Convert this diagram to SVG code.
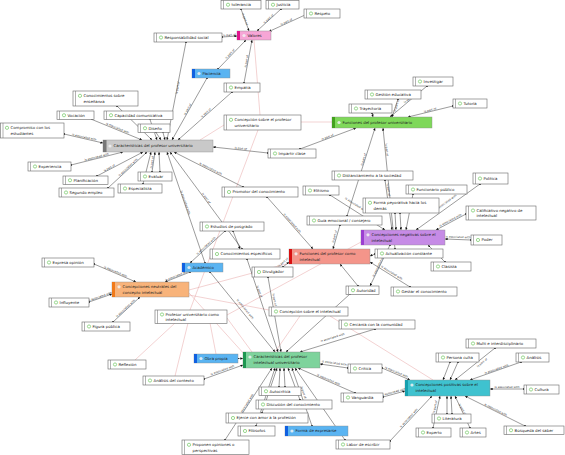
<svg xmlns="http://www.w3.org/2000/svg" width="565" height="455" viewBox="0 0 565 455">
<defs>
<marker id="ar" viewBox="0 0 6 6" refX="6" refY="3" markerWidth="2.6" markerHeight="2.6" markerUnits="userSpaceOnUse" orient="auto"><path d="M0,0L6,3L0,6z" fill="#111"/></marker>
<marker id="sq" viewBox="0 0 4 4" refX="2" refY="2" markerWidth="1.7" markerHeight="1.7" markerUnits="userSpaceOnUse"><rect width="4" height="4" fill="#111"/></marker>
<style>
.e line{stroke:#222;stroke-width:.45;marker-start:url(#sq);marker-end:url(#ar)}
.pk line{stroke:#e6a4a4;stroke-width:.5}
.lb text{font-family:"DejaVu Sans",sans-serif;font-size:2.8px;fill:#333;text-anchor:middle}
.nd rect.bx{fill:#fff;stroke:#666;stroke-width:.6}
.nd line{stroke:#666;stroke-width:.5}
.nd circle{fill:none;stroke:#5bbf4a;stroke-width:.6}
.nd text{font-family:"DejaVu Sans",sans-serif;font-size:3.9px;fill:#222}
.nd.cat circle{fill:#f2f2f2;stroke:none;opacity:.85}
.nd.cat rect.bx{stroke:#8a8a8a;stroke-width:.4}
.nd.gray rect.bx{fill:#c9c9c9}.nd.gray rect.br{fill:#777}
.nd.pink rect.bx{fill:#f6a6d6}.nd.pink rect.br{fill:#e0158e}
.nd.blue rect.bx{fill:#5ab4f2}.nd.blue rect.br{fill:#1060e0}
.nd.green rect.bx{fill:#7fd85a}.nd.green rect.br{fill:#43a01e}
.nd.salmon rect.bx{fill:#f4958a}.nd.salmon rect.br{fill:#d81010}
.nd.purple rect.bx{fill:#c68be6}.nd.purple rect.br{fill:#9b3fd0}
.nd.orange rect.bx{fill:#f8b37a}.nd.orange rect.br{fill:#f07a1a}
.nd.mint rect.bx{fill:#7ed39c}.nd.mint rect.br{fill:#1e9650}
.nd.teal rect.bx{fill:#3fc2cf}.nd.teal rect.br{fill:#17a0ae}
</style>
</defs>
<rect width="565" height="455" fill="#fff"/>
<g id="connectors">
<g class="pk">
<line x1="254" y1="40" x2="260" y2="115"/>
<line x1="224" y1="125" x2="200" y2="140"/>
<line x1="301" y1="122" x2="332" y2="122"/>
<line x1="258" y1="130" x2="190" y2="310"/>
<line x1="175" y1="323" x2="135" y2="360"/>
<line x1="188" y1="323" x2="175" y2="376"/>
<line x1="210" y1="323" x2="216" y2="354"/>
<line x1="227" y1="318" x2="252" y2="352"/>
<line x1="227" y1="315" x2="361" y2="242"/>
<line x1="290" y1="263" x2="189" y2="290"/>
<line x1="189" y1="295" x2="269" y2="310"/>
<line x1="330" y1="316" x2="433" y2="380"/>
<line x1="300" y1="316" x2="275" y2="352"/>
<line x1="189" y1="293" x2="245" y2="355"/>
</g>
<g class="e">
<line x1="241" y1="9" x2="249" y2="31"/>
<line x1="281" y1="9" x2="257" y2="31"/>
<line x1="305" y1="15" x2="269" y2="31.5"/>
<line x1="222" y1="37" x2="237" y2="36"/>
<line x1="218" y1="69" x2="246" y2="40"/>
<line x1="244" y1="83" x2="252" y2="40"/>
<line x1="186" y1="42" x2="167" y2="140"/>
<line x1="207" y1="78" x2="172" y2="140"/>
<line x1="232" y1="92" x2="178" y2="140"/>
<line x1="117" y1="106" x2="152" y2="140"/>
<line x1="92" y1="119.5" x2="142" y2="140"/>
<line x1="150" y1="119.5" x2="157" y2="140"/>
<line x1="156" y1="132.5" x2="161" y2="140"/>
<line x1="163" y1="132.5" x2="165" y2="140"/>
<line x1="64" y1="134" x2="103" y2="143"/>
<line x1="71" y1="165" x2="123" y2="152"/>
<line x1="97" y1="176" x2="143" y2="152"/>
<line x1="108" y1="188" x2="147" y2="152"/>
<line x1="152" y1="172" x2="155" y2="152"/>
<line x1="160" y1="172" x2="159" y2="152"/>
<line x1="143" y1="184" x2="151" y2="152"/>
<line x1="205" y1="263" x2="167" y2="152"/>
<line x1="242" y1="249" x2="170" y2="152"/>
<line x1="243" y1="187" x2="174" y2="152"/>
<line x1="268" y1="153" x2="213" y2="147"/>
<line x1="427" y1="86" x2="390" y2="117"/>
<line x1="398" y1="99" x2="392" y2="117"/>
<line x1="372" y1="113" x2="373" y2="117"/>
<line x1="453" y1="106" x2="408" y2="117"/>
<line x1="300" y1="149" x2="356" y2="128"/>
<line x1="347" y1="216" x2="375" y2="128"/>
<line x1="395" y1="249" x2="383" y2="128"/>
<line x1="385" y1="180" x2="392" y2="230"/>
<line x1="330" y1="195" x2="385" y2="230"/>
<line x1="400" y1="213" x2="401" y2="230"/>
<line x1="395" y1="213" x2="396" y2="230"/>
<line x1="413" y1="194" x2="406" y2="230"/>
<line x1="480" y1="184" x2="416" y2="230"/>
<line x1="466" y1="214" x2="436" y2="230"/>
<line x1="471" y1="240" x2="445" y2="239"/>
<line x1="445" y1="262" x2="428" y2="245"/>
<line x1="390" y1="245" x2="370" y2="286"/>
<line x1="340" y1="225" x2="333" y2="249"/>
<line x1="267" y1="197" x2="313" y2="249"/>
<line x1="283" y1="267" x2="289" y2="262"/>
<line x1="375" y1="254" x2="370" y2="256"/>
<line x1="358" y1="286" x2="340" y2="264"/>
<line x1="410" y1="287" x2="370" y2="262"/>
<line x1="210" y1="272" x2="275" y2="352"/>
<line x1="247" y1="259" x2="278" y2="352"/>
<line x1="268" y1="277" x2="281" y2="352"/>
<line x1="350" y1="294" x2="286" y2="352"/>
<line x1="375" y1="329" x2="300" y2="352"/>
<line x1="238" y1="358.5" x2="243" y2="358.5"/>
<line x1="204" y1="379" x2="243" y2="365"/>
<line x1="348" y1="368" x2="320" y2="364"/>
<line x1="355" y1="393" x2="298" y2="368"/>
<line x1="279" y1="387" x2="280" y2="368"/>
<line x1="285" y1="387" x2="284" y2="368"/>
<line x1="300" y1="400" x2="288" y2="368"/>
<line x1="262" y1="413" x2="277" y2="368"/>
<line x1="256" y1="426" x2="275" y2="368"/>
<line x1="312" y1="426" x2="292" y2="368"/>
<line x1="345" y1="440" x2="295" y2="368"/>
<line x1="225" y1="440" x2="272" y2="368"/>
<line x1="382" y1="368" x2="410" y2="380"/>
<line x1="383" y1="397" x2="405" y2="391"/>
<line x1="450" y1="362" x2="443" y2="380"/>
<line x1="458" y1="362" x2="450" y2="380"/>
<line x1="495" y1="348" x2="455" y2="380"/>
<line x1="521" y1="362" x2="470" y2="380"/>
<line x1="524" y1="389" x2="490" y2="389"/>
<line x1="447" y1="414" x2="447" y2="396"/>
<line x1="452" y1="414" x2="451" y2="396"/>
<line x1="433" y1="428" x2="440" y2="396"/>
<line x1="470" y1="428" x2="455" y2="396"/>
<line x1="525" y1="426" x2="465" y2="396"/>
<line x1="390" y1="441" x2="432" y2="396"/>
<line x1="94" y1="264" x2="136" y2="282"/>
<line x1="89" y1="302" x2="112" y2="294"/>
<line x1="113" y1="322" x2="140" y2="297"/>
<line x1="190" y1="272" x2="165" y2="282"/>
<line x1="225" y1="231" x2="190" y2="263"/>
<line x1="233" y1="231" x2="240" y2="249"/>
</g>
<g class="lb">
<text transform="translate(243.5,19.5) rotate(70)" y="-0.6">is part of</text>
<text transform="translate(269.5,20) rotate(-42.5)" y="-0.6">is part of</text>
<text transform="translate(287,23.3) rotate(-24.7)" y="-0.6">is part of</text>
<text transform="translate(229.5,36.5) rotate(-4)" y="-0.6">is part of</text>
<text transform="translate(231,55) rotate(-46)" y="-0.6">is part of</text>
<text transform="translate(248,61.5) rotate(-79.5)" y="-0.6">is part of</text>
<text transform="translate(179,88) rotate(-79)" y="-0.6">is part of</text>
<text transform="translate(189,110) rotate(-60.6)" y="-0.6">is part of</text>
<text transform="translate(207,114) rotate(-41.6)" y="-0.6">is part of</text>
<text transform="translate(117,129.5) rotate(22.8)" y="-0.6">is associated with</text>
<text transform="translate(84,138.5) rotate(12.7)" y="-0.6">is associated with</text>
<text transform="translate(97,158.5) rotate(-14)" y="-0.6">is associated with</text>
<text transform="translate(110,169.2) rotate(-27.5)" y="-0.6">is part of</text>
<text transform="translate(129,168.5) rotate(-42.7)" y="-0.6">is associated with</text>
<text transform="translate(153.5,162.5) rotate(-81.5)" y="-0.6">is part of</text>
<text transform="translate(184,203) rotate(71.1)" y="-0.6">is associated with</text>
<text transform="translate(205,199) rotate(53.4)" y="-0.6">is part of</text>
<text transform="translate(210,170) rotate(27)" y="-0.6">is associated with</text>
<text transform="translate(240.5,150) rotate(6.2)" y="-0.6">is part of</text>
<text transform="translate(410,100) rotate(-40)" y="-0.6">is part of</text>
<text transform="translate(398,106) rotate(-72)" y="-0.6">is part of</text>
<text transform="translate(430.5,111.5) rotate(-13.7)" y="-0.6">is part of</text>
<text transform="translate(328,138.5) rotate(-20.6)" y="-0.6">is part of</text>
<text transform="translate(365,160) rotate(-72.3)" y="-0.6">is part of</text>
<text transform="translate(385.2,150) rotate(84.3)" y="-0.6">is part of</text>
<text transform="translate(387,190) rotate(82)" y="-0.6">is part of</text>
<text transform="translate(355,206) rotate(32.5)" y="-0.6">is associated with</text>
<text transform="translate(447,203.5) rotate(-35.7)" y="-0.6">is associated with</text>
<text transform="translate(451,221.5) rotate(-28)" y="-0.6">is associated with</text>
<text transform="translate(458,238.5) rotate(2)" y="-0.6">is associated with</text>
<text transform="translate(380,266) rotate(-64)" y="-0.6">is associated with</text>
<text transform="translate(336,237) rotate(-74)" y="-0.6">is part of</text>
<text transform="translate(291,224) rotate(48.5)" y="-0.6">is associated with</text>
<text transform="translate(284,263.5) rotate(-40)" y="-0.6">is part of</text>
<text transform="translate(391,274) rotate(32)" y="-0.6">is associated with</text>
<text transform="translate(244,310) rotate(51)" y="-0.6">is associated with</text>
<text transform="translate(258,292) rotate(71.6)" y="-0.6">is part of</text>
<text transform="translate(273,300) rotate(80)" y="-0.6">is part of</text>
<text transform="translate(333,339) rotate(-17)" y="-0.6">is associated with</text>
<text transform="translate(223,371.5) rotate(-19.7)" y="-0.6">is associated with</text>
<text transform="translate(334,364.5) rotate(8)" y="-0.6">is associated with</text>
<text transform="translate(328,381) rotate(23.7)" y="-0.6">is associated with</text>
<text transform="translate(302,393) rotate(72)" y="-0.6">is part of</text>
<text transform="translate(247.5,405.5) rotate(-57)" y="-0.6">is associated with</text>
<text transform="translate(396,373.5) rotate(23)" y="-0.6">is associated with</text>
<text transform="translate(394,393.5) rotate(-15)" y="-0.6">is associated with</text>
<text transform="translate(483,364) rotate(-38.7)" y="-0.6">is part of</text>
<text transform="translate(497,370.5) rotate(-19.4)" y="-0.6">is associated with</text>
<text transform="translate(507,389) rotate(0)" y="-0.6">is associated with</text>
<text transform="translate(436.5,407) rotate(-77.7)" y="-0.6">is part of</text>
<text transform="translate(461,410) rotate(62)" y="-0.6">is part of</text>
<text transform="translate(495,411) rotate(26.6)" y="-0.6">is associated with</text>
<text transform="translate(410,419) rotate(-47)" y="-0.6">is associated with</text>
<text transform="translate(115,273) rotate(23)" y="-0.6">is associated with</text>
<text transform="translate(100.5,298) rotate(-19)" y="-0.6">is associated with</text>
<text transform="translate(126.5,309.5) rotate(-42.8)" y="-0.6">is associated with</text>
<text transform="translate(177.5,277) rotate(-21.8)" y="-0.6">is associated with</text>
<text transform="translate(207,247) rotate(-42.4)" y="-0.6">is associated with</text>
</g>
</g>
<g id="n-tolerancia" class="nd"><rect class="bx" x="221" y="0.5" width="40" height="8.5"/><line x1="223.5" y1="0.5" x2="223.5" y2="9"/><circle cx="228" cy="4.75" r="1.6"/><text x="231.5" y="6.2">tolerancia</text></g>
<g id="n-justicia" class="nd"><rect class="bx" x="266" y="0.5" width="33" height="8.5"/><line x1="268.5" y1="0.5" x2="268.5" y2="9"/><circle cx="273" cy="4.75" r="1.6"/><text x="276.5" y="6.2">Justicia</text></g>
<g id="n-respeto" class="nd"><rect class="bx" x="304" y="9" width="36" height="9"/><line x1="306.5" y1="9" x2="306.5" y2="18"/><circle cx="311" cy="13.5" r="1.6"/><text x="314.5" y="14.9">Respeto</text></g>
<g id="n-valores" class="nd cat pink"><rect class="bx" x="237" y="31" width="34" height="9"/><rect class="br" x="237" y="31" width="3" height="9"/><circle cx="244" cy="35.5" r="1.6"/><text x="247.5" y="36.9">Valores</text></g>
<g id="n-respsocial" class="nd"><rect class="bx" x="154" y="33" width="68" height="9"/><line x1="156.5" y1="33" x2="156.5" y2="42"/><circle cx="161" cy="37.5" r="1.6"/><text x="164.5" y="38.9">Responsabilidad social</text></g>
<g id="n-paciencia" class="nd cat blue"><rect class="bx" x="192" y="69" width="38" height="9"/><rect class="br" x="192" y="69" width="3" height="9"/><circle cx="199" cy="73.5" r="1.6"/><text x="202.5" y="74.9">Paciencia</text></g>
<g id="n-empatia" class="nd"><rect class="bx" x="224" y="83" width="36" height="9"/><line x1="226.5" y1="83" x2="226.5" y2="92"/><circle cx="231" cy="87.5" r="1.6"/><text x="234.5" y="88.9">Empatía</text></g>
<g id="n-conoens" class="nd"><rect class="bx" x="73" y="91" width="65" height="15"/><line x1="75.5" y1="91" x2="75.5" y2="106"/><circle cx="80" cy="95.8" r="1.6"/><text x="83.5" y="97">Conocimientos sobre</text><text x="83.5" y="102.5">enseñanza</text></g>
<g id="n-vocacion" class="nd"><rect class="bx" x="57" y="111" width="37" height="8.5"/><line x1="59.5" y1="111" x2="59.5" y2="119.5"/><circle cx="64" cy="115.25" r="1.6"/><text x="67.5" y="116.6">Vocación</text></g>
<g id="n-capcom" class="nd"><rect class="bx" x="104" y="111" width="69" height="8.5"/><line x1="106.5" y1="111" x2="106.5" y2="119.5"/><circle cx="111" cy="115.25" r="1.6"/><text x="114.5" y="116.6">Capacidad comunicativa</text></g>
<g id="n-diseno" class="nd"><rect class="bx" x="138" y="124" width="32" height="8.5"/><line x1="140.5" y1="124" x2="140.5" y2="132.5"/><circle cx="145" cy="128.25" r="1.6"/><text x="148.5" y="129.6">Diseño</text></g>
<g id="n-compromiso" class="nd"><rect class="bx" x="0.5" y="123" width="63.5" height="15"/><line x1="3" y1="123" x2="3" y2="138"/><circle cx="7" cy="127.8" r="1.6"/><text x="10.5" y="129">Compromiso con los</text><text x="10.5" y="134.5">estudiantes</text></g>
<g id="n-cpu" class="nd cat gray"><rect class="bx" x="103" y="140" width="110" height="12"/><rect class="br" x="103" y="140" width="3.5" height="12"/><circle cx="110" cy="146" r="1.6"/><text x="113.5" y="147.4">Características del profesor universitario</text></g>
<g id="n-concpu" class="nd"><rect class="bx" x="224" y="115" width="77" height="15"/><line x1="226.5" y1="115" x2="226.5" y2="130"/><circle cx="231" cy="119.8" r="1.6"/><text x="234.5" y="121">Concepción sobre el profesor</text><text x="234.5" y="126.5">universitario</text></g>
<g id="n-fpu" class="nd cat green"><rect class="bx" x="332" y="117" width="100" height="11"/><rect class="br" x="332" y="117" width="3" height="11"/><circle cx="339" cy="122.5" r="1.6"/><text x="342.5" y="123.9">Funciones del profesor universitario</text></g>
<g id="n-impartir" class="nd"><rect class="bx" x="268" y="149" width="48" height="9"/><line x1="270.5" y1="149" x2="270.5" y2="158"/><circle cx="275" cy="153.5" r="1.6"/><text x="278.5" y="154.9">Impartir clase</text></g>
<g id="n-investigar" class="nd"><rect class="bx" x="413" y="77" width="40" height="9"/><line x1="415.5" y1="77" x2="415.5" y2="86"/><circle cx="420" cy="81.5" r="1.6"/><text x="423.5" y="82.9">Investigar</text></g>
<g id="n-gestion" class="nd"><rect class="bx" x="365" y="90" width="56" height="9"/><line x1="367.5" y1="90" x2="367.5" y2="99"/><circle cx="372" cy="94.5" r="1.6"/><text x="375.5" y="95.9">Gestión educativa</text></g>
<g id="n-trayectoria" class="nd"><rect class="bx" x="349" y="104" width="43" height="9"/><line x1="351.5" y1="104" x2="351.5" y2="113"/><circle cx="356" cy="108.5" r="1.6"/><text x="359.5" y="109.9">Trayectoria</text></g>
<g id="n-tutoria" class="nd"><rect class="bx" x="453" y="99" width="34" height="9"/><line x1="455.5" y1="99" x2="455.5" y2="108"/><circle cx="460" cy="103.5" r="1.6"/><text x="463.5" y="104.9">Tutoria</text></g>
<g id="n-experiencia" class="nd"><rect class="bx" x="28" y="162" width="43" height="9"/><line x1="30.5" y1="162" x2="30.5" y2="171"/><circle cx="35" cy="166.5" r="1.6"/><text x="38.5" y="167.9">Experiencia</text></g>
<g id="n-planificacion" class="nd"><rect class="bx" x="63" y="176" width="45" height="8.5"/><line x1="65.5" y1="176" x2="65.5" y2="184.5"/><circle cx="70" cy="180.25" r="1.6"/><text x="73.5" y="181.6">Planificación</text></g>
<g id="n-segundo" class="nd"><rect class="bx" x="59" y="188" width="55" height="9"/><line x1="61.5" y1="188" x2="61.5" y2="197"/><circle cx="66" cy="192.5" r="1.6"/><text x="69.5" y="193.9">Segundo empleo</text></g>
<g id="n-evaluar" class="nd"><rect class="bx" x="138" y="172" width="34" height="9"/><line x1="140.5" y1="172" x2="140.5" y2="181"/><circle cx="145" cy="176.5" r="1.6"/><text x="148.5" y="177.9">Evaluar</text></g>
<g id="n-especialista" class="nd"><rect class="bx" x="118" y="184" width="44" height="9"/><line x1="120.5" y1="184" x2="120.5" y2="193"/><circle cx="125" cy="188.5" r="1.6"/><text x="128.5" y="189.9">Especialista</text></g>
<g id="n-promotor" class="nd"><rect class="bx" x="222" y="187" width="76" height="10"/><line x1="224.5" y1="187" x2="224.5" y2="197"/><circle cx="229" cy="192" r="1.6"/><text x="232.5" y="193.4">Promotor del conocimiento</text></g>
<g id="n-elitismo" class="nd"><rect class="bx" x="303" y="186" width="36" height="9"/><line x1="305.5" y1="186" x2="305.5" y2="195"/><circle cx="310" cy="190.5" r="1.6"/><text x="313.5" y="191.9">Elitismo</text></g>
<g id="n-distanciamiento" class="nd"><rect class="bx" x="332" y="171" width="81" height="9"/><line x1="334.5" y1="171" x2="334.5" y2="180"/><circle cx="339" cy="175.5" r="1.6"/><text x="342.5" y="176.9">Distanciamiento a la sociedad</text></g>
<g id="n-funcionario" class="nd"><rect class="bx" x="406" y="185" width="61" height="9"/><line x1="408.5" y1="185" x2="408.5" y2="194"/><circle cx="413" cy="189.5" r="1.6"/><text x="416.5" y="190.9">Funcionario público</text></g>
<g id="n-politica" class="nd"><rect class="bx" x="473" y="173" width="35" height="11"/><line x1="475.5" y1="173" x2="475.5" y2="184"/><circle cx="480" cy="178.5" r="1.6"/><text x="483.5" y="179.9">Política</text></g>
<g id="n-peyorativa" class="nd"><rect class="bx" x="363" y="198" width="76" height="15"/><line x1="365.5" y1="198" x2="365.5" y2="213"/><circle cx="370" cy="202.8" r="1.6"/><text x="373.5" y="204">Forma peyorativa hacia los</text><text x="373.5" y="209.5">demás</text></g>
<g id="n-calificativo" class="nd"><rect class="bx" x="466" y="206" width="70" height="14"/><line x1="468.5" y1="206" x2="468.5" y2="220"/><circle cx="473" cy="210.5" r="1.6"/><text x="476.5" y="211.5">Calificativo negativo de</text><text x="476.5" y="217">intelectual</text></g>
<g id="n-guia" class="nd"><rect class="bx" x="307" y="216" width="75" height="9"/><line x1="309.5" y1="216" x2="309.5" y2="225"/><circle cx="314" cy="220.5" r="1.6"/><text x="317.5" y="221.9">Guía emocional / consejero</text></g>
<g id="n-cneg" class="nd cat purple"><rect class="bx" x="361" y="230" width="84" height="15"/><rect class="br" x="361" y="230" width="3" height="15"/><circle cx="368" cy="234.8" r="1.6"/><text x="371.5" y="236">Concepciones negativas sobre el</text><text x="371.5" y="241.5">intelectual</text></g>
<g id="n-poder" class="nd"><rect class="bx" x="471" y="235" width="31" height="10"/><line x1="473.5" y1="235" x2="473.5" y2="245"/><circle cx="478" cy="240" r="1.6"/><text x="481.5" y="241.4">Poder</text></g>
<g id="n-estudios" class="nd"><rect class="bx" x="200" y="222" width="64" height="9"/><line x1="202.5" y1="222" x2="202.5" y2="231"/><circle cx="207" cy="226.5" r="1.6"/><text x="210.5" y="227.9">Estudios de posgrado</text></g>
<g id="n-conoesp" class="nd"><rect class="bx" x="210" y="249" width="70" height="10"/><line x1="212.5" y1="249" x2="212.5" y2="259"/><circle cx="217" cy="254" r="1.6"/><text x="220.5" y="255.4">Conocimientos específicos</text></g>
<g id="n-fpi" class="nd cat salmon"><rect class="bx" x="289" y="249" width="81" height="15"/><rect class="br" x="289" y="249" width="3" height="15"/><circle cx="296" cy="253.8" r="1.6"/><text x="299.5" y="255">Funciones del profesor como</text><text x="299.5" y="260.5">intelectual</text></g>
<g id="n-actualizacion" class="nd"><rect class="bx" x="375" y="249" width="68" height="9"/><line x1="377.5" y1="249" x2="377.5" y2="258"/><circle cx="382" cy="253.5" r="1.6"/><text x="385.5" y="254.9">Actualización constante</text></g>
<g id="n-clasista" class="nd"><rect class="bx" x="431" y="262" width="40" height="9"/><line x1="433.5" y1="262" x2="433.5" y2="271"/><circle cx="438" cy="266.5" r="1.6"/><text x="441.5" y="267.9">Clasista</text></g>
<g id="n-divulgador" class="nd"><rect class="bx" x="252" y="267" width="41" height="10"/><line x1="254.5" y1="267" x2="254.5" y2="277"/><circle cx="259" cy="272" r="1.6"/><text x="262.5" y="273.4">Divulgador</text></g>
<g id="n-academico" class="nd cat blue"><rect class="bx" x="182" y="263" width="41" height="9"/><rect class="br" x="182" y="263" width="3" height="9"/><circle cx="189" cy="267.5" r="1.6"/><text x="192.5" y="268.9">Académico</text></g>
<g id="n-expresa" class="nd"><rect class="bx" x="42" y="258" width="52" height="9"/><line x1="44.5" y1="258" x2="44.5" y2="267"/><circle cx="49" cy="262.5" r="1.6"/><text x="52.5" y="263.9">Expresa opinión</text></g>
<g id="n-cneu" class="nd cat orange"><rect class="bx" x="112" y="282" width="77" height="15"/><rect class="br" x="112" y="282" width="3" height="15"/><circle cx="119" cy="286.8" r="1.6"/><text x="122.5" y="288">Concepciones neutrales del</text><text x="122.5" y="293.5">concepto intelectual</text></g>
<g id="n-influyente" class="nd"><rect class="bx" x="49" y="298" width="40" height="9"/><line x1="51.5" y1="298" x2="51.5" y2="307"/><circle cx="56" cy="302.5" r="1.6"/><text x="59.5" y="303.9">Influyente</text></g>
<g id="n-autoridad" class="nd"><rect class="bx" x="346" y="286" width="33" height="8.5"/><line x1="348.5" y1="286" x2="348.5" y2="294.5"/><circle cx="353" cy="290.25" r="1.6"/><text x="356.5" y="291.6">Autoridad</text></g>
<g id="n-gestar" class="nd"><rect class="bx" x="391" y="287" width="66" height="9"/><line x1="393.5" y1="287" x2="393.5" y2="296"/><circle cx="398" cy="291.5" r="1.6"/><text x="401.5" y="292.9">Gestar el conocimiento</text></g>
<g id="n-figura" class="nd"><rect class="bx" x="82" y="322" width="48" height="9"/><line x1="84.5" y1="322" x2="84.5" y2="331"/><circle cx="89" cy="326.5" r="1.6"/><text x="92.5" y="327.9">Figura pública</text></g>
<g id="n-pui" class="nd"><rect class="bx" x="155" y="310" width="72" height="13.5"/><line x1="157.5" y1="310" x2="157.5" y2="323.5"/><circle cx="162" cy="314.5" r="1.6"/><text x="165.5" y="315.5">Profesor universitario como</text><text x="165.5" y="321">intelectual</text></g>
<g id="n-conci" class="nd"><rect class="bx" x="269" y="307" width="79" height="9"/><line x1="271.5" y1="307" x2="271.5" y2="316"/><circle cx="276" cy="311.5" r="1.6"/><text x="279.5" y="312.9">Concepción sobre el intelectual</text></g>
<g id="n-cercania" class="nd"><rect class="bx" x="339" y="320" width="76" height="9"/><line x1="341.5" y1="320" x2="341.5" y2="329"/><circle cx="346" cy="324.5" r="1.6"/><text x="349.5" y="325.9">Cercanía con la comunidad</text></g>
<g id="n-reflexion" class="nd"><rect class="bx" x="108" y="360" width="38" height="9"/><line x1="110.5" y1="360" x2="110.5" y2="369"/><circle cx="115" cy="364.5" r="1.6"/><text x="118.5" y="365.9">Reflexión</text></g>
<g id="n-analisisctx" class="nd"><rect class="bx" x="143" y="376" width="61" height="9"/><line x1="145.5" y1="376" x2="145.5" y2="385"/><circle cx="150" cy="380.5" r="1.6"/><text x="153.5" y="381.9">Análisis del contexto</text></g>
<g id="n-obra" class="nd cat blue"><rect class="bx" x="194" y="354" width="44" height="9"/><rect class="br" x="194" y="354" width="3" height="9"/><circle cx="201" cy="358.5" r="1.6"/><text x="204.5" y="359.9">Obra propia</text></g>
<g id="n-cpiu" class="nd cat mint"><rect class="bx" x="243" y="352" width="77" height="16"/><rect class="br" x="243" y="352" width="3" height="16"/><circle cx="250" cy="357" r="1.6"/><text x="253.5" y="358.2">Características del profesor</text><text x="253.5" y="363.7">intelectual universitario</text></g>
<g id="n-critica" class="nd"><rect class="bx" x="348" y="364" width="34" height="9"/><line x1="350.5" y1="364" x2="350.5" y2="373"/><circle cx="355" cy="368.5" r="1.6"/><text x="358.5" y="369.9">Crítica</text></g>
<g id="n-vanguardia" class="nd"><rect class="bx" x="341" y="393" width="42" height="9"/><line x1="343.5" y1="393" x2="343.5" y2="402"/><circle cx="348" cy="397.5" r="1.6"/><text x="351.5" y="398.9">Vanguardia</text></g>
<g id="n-autocritica" class="nd"><rect class="bx" x="259" y="387" width="42" height="8.5"/><line x1="261.5" y1="387" x2="261.5" y2="395.5"/><circle cx="266" cy="391.25" r="1.6"/><text x="269.5" y="392.6">Autocrítica</text></g>
<g id="n-discusion" class="nd"><rect class="bx" x="256" y="400" width="76" height="9"/><line x1="258.5" y1="400" x2="258.5" y2="409"/><circle cx="263" cy="404.5" r="1.6"/><text x="266.5" y="405.9">Discusión del conocimiento</text></g>
<g id="n-ejerce" class="nd"><rect class="bx" x="226" y="413" width="82" height="10"/><line x1="228.5" y1="413" x2="228.5" y2="423"/><circle cx="233" cy="418" r="1.6"/><text x="236.5" y="419.4">Ejerce con amor a la profesión</text></g>
<g id="n-filosofos" class="nd"><rect class="bx" x="238" y="426" width="37" height="10"/><line x1="240.5" y1="426" x2="240.5" y2="436"/><circle cx="245" cy="431" r="1.6"/><text x="248.5" y="432.4">Filósofos</text></g>
<g id="n-forma" class="nd cat blue"><rect class="bx" x="285" y="426" width="63" height="10"/><rect class="br" x="285" y="426" width="3" height="10"/><circle cx="292" cy="431" r="1.6"/><text x="295.5" y="432.4">Forma de expresarse</text></g>
<g id="n-proponen" class="nd"><rect class="bx" x="182" y="440" width="67" height="14.5"/><line x1="184.5" y1="440" x2="184.5" y2="454.5"/><circle cx="189" cy="444.8" r="1.6"/><text x="192.5" y="446">Proponen opiniones o</text><text x="192.5" y="451.5">perspectivas</text></g>
<g id="n-labor" class="nd"><rect class="bx" x="336" y="440" width="54" height="9"/><line x1="338.5" y1="440" x2="338.5" y2="449"/><circle cx="343" cy="444.5" r="1.6"/><text x="346.5" y="445.9">Labor de escribir</text></g>
<g id="n-multi" class="nd"><rect class="bx" x="466" y="339" width="70" height="9"/><line x1="468.5" y1="339" x2="468.5" y2="348"/><circle cx="473" cy="343.5" r="1.6"/><text x="476.5" y="344.9">Multi e interdisciplinario</text></g>
<g id="n-persona" class="nd"><rect class="bx" x="436" y="353" width="43" height="9"/><line x1="438.5" y1="353" x2="438.5" y2="362"/><circle cx="443" cy="357.5" r="1.6"/><text x="446.5" y="358.9">Persona culta</text></g>
<g id="n-analisis" class="nd"><rect class="bx" x="516" y="353" width="33" height="9"/><line x1="518.5" y1="353" x2="518.5" y2="362"/><circle cx="523" cy="357.5" r="1.6"/><text x="526.5" y="358.9">Análisis</text></g>
<g id="n-cpos" class="nd cat teal"><rect class="bx" x="405" y="380" width="85" height="16"/><rect class="br" x="405" y="380" width="3" height="16"/><circle cx="412" cy="385" r="1.6"/><text x="415.5" y="386.2">Concepciones positivas sobre el</text><text x="415.5" y="391.7">intelectual</text></g>
<g id="n-cultura" class="nd"><rect class="bx" x="524" y="385" width="35" height="9"/><line x1="526.5" y1="385" x2="526.5" y2="394"/><circle cx="531" cy="389.5" r="1.6"/><text x="534.5" y="390.9">Cultura</text></g>
<g id="n-literatura" class="nd"><rect class="bx" x="432" y="414" width="39" height="9"/><line x1="434.5" y1="414" x2="434.5" y2="423"/><circle cx="439" cy="418.5" r="1.6"/><text x="442.5" y="419.9">Literatura</text></g>
<g id="n-experto" class="nd"><rect class="bx" x="416" y="428" width="35" height="9"/><line x1="418.5" y1="428" x2="418.5" y2="437"/><circle cx="423" cy="432.5" r="1.6"/><text x="426.5" y="433.9">Experto</text></g>
<g id="n-artes" class="nd"><rect class="bx" x="460" y="428" width="26" height="9"/><line x1="462.5" y1="428" x2="462.5" y2="437"/><circle cx="467" cy="432.5" r="1.6"/><text x="470.5" y="433.9">Artes</text></g>
<g id="n-busqueda" class="nd"><rect class="bx" x="504" y="426" width="60" height="8.5"/><line x1="506.5" y1="426" x2="506.5" y2="434.5"/><circle cx="511" cy="430.25" r="1.6"/><text x="514.5" y="431.6">Búsqueda del saber</text></g>
</svg>
